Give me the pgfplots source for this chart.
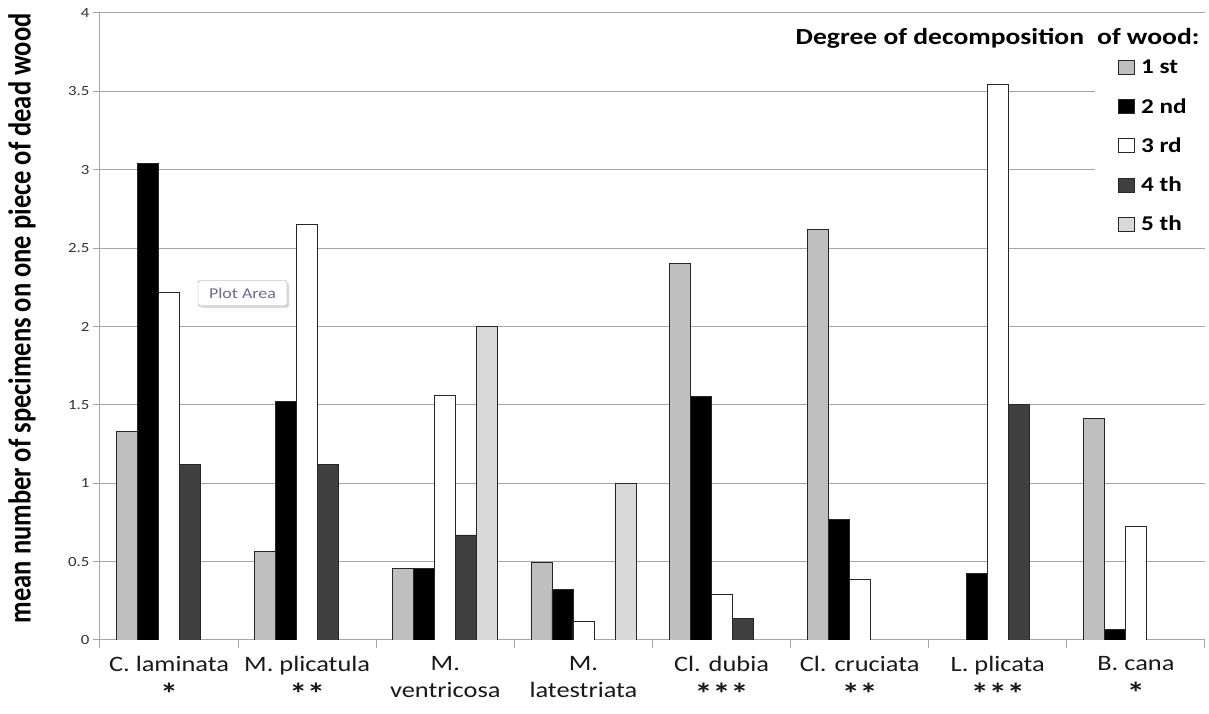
\documentclass[border=0pt]{standalone}
\usepackage{pgfplots}
\pgfplotsset{compat=1.18}
\usepackage{fontspec}
\setmainfont{Carlito}
\usetikzlibrary{shadows}
\definecolor{cA}{HTML}{BFBFBF}
\definecolor{cB}{HTML}{000000}
\definecolor{cC}{HTML}{FFFFFF}
\definecolor{cD}{HTML}{404040}
\definecolor{cE}{HTML}{D9D9D9}
\definecolor{gridc}{HTML}{A6A6A6}
\newcommand{\hs}[1]{\scalebox{1.2}[1]{#1}}
\newcommand{\st}[1]{{\fontsize{30}{27}\selectfont\bfseries\raisebox{-6pt}{\hs{#1}}}}
\begin{document}
\begin{tikzpicture}
\begin{axis}[
  scale only axis,
  width=1105pt, height=627pt,
  xmin=-0.5, xmax=7.5, ymin=0, ymax=4,
  ybar=0pt, bar width=21pt,
  axis x line*=bottom, axis y line*=left,
  axis line style={gridc, line width=1pt, -},
  ytick={0,0.5,...,4},
  ymajorgrids, grid style={gridc, line width=1pt},
  tick align=outside,
  major tick length=7pt,
  minor tick length=8pt,
  tick style={gridc, line width=1pt},
  xtick={0,...,7},
  x tick style={draw=none},
  minor xtick={-0.5,0.5,...,7.5},
  minor x tick style={gridc, line width=1pt, draw=gridc},
  yticklabel style={font=\fontsize{14}{14}\selectfont, text=black!80},
  /pgf/number format/assume math mode=true,
  yticklabel={\hs{\pgfmathprintnumber{\tick}}},
  xticklabels={
    {\hs{C. laminata}\\\st{*}},
    {\hs{M. plicatula}\\\st{**}},
    {\hs{M.}\\\hs{ventricosa}},
    {\hs{M.}\\\hs{latestriata}},
    {\hs{Cl. dubia}\\\st{***}},
    {\hs{Cl. cruciata}\\\st{**}},
    {\hs{L. plicata}\\\st{***}},
    {\hs{B. cana}\\\st{*}}},
  xticklabel style={align=center, font=\fontsize{22}{27}\selectfont, text=black!90, anchor=north, yshift=-6pt},
  ylabel={\scalebox{1}[1.2]{\bfseries mean number of specimens on one piece of dead wood}},
  ylabel style={at={(rel axis cs:-0.0706,0.513)}, anchor=center, font=\fontsize{26.5}{26.5}\selectfont},
  every axis plot/.append style={draw=black!85, line width=0.8pt},
  every axis plot post/.append style={legend image code/.code={\draw[##1, line width=0.8pt] (0pt,-7pt) rectangle (16pt,7pt);}},
  legend style={at={(rel axis cs:0.9005,0.925)}, anchor=north west, draw=none, fill=white,
    inner xsep=23pt, inner ysep=0pt, row sep=23pt,
    font=\fontsize{21}{21}\selectfont\bfseries,
    nodes={inner sep=0pt}},
  legend cell align=left,
]
\addplot[fill=cA] coordinates {(0,1.33) (1,0.565) (2,0.455) (3,0.495) (4,2.40) (5,2.62) (7,1.415)};
\addplot[fill=cB] coordinates {(0,3.04) (1,1.52) (2,0.455) (3,0.324) (4,1.551) (5,0.768) (6,0.424) (7,0.068)};
\addplot[fill=cC] coordinates {(0,2.22) (1,2.65) (2,1.563) (3,0.12) (4,0.29) (5,0.388) (6,3.544) (7,0.725)};
\addplot[fill=cD] coordinates {(0,1.12) (1,1.12) (2,0.67) (4,0.139) (6,1.5)};
\addplot[fill=cE] coordinates {(2,2.0) (3,1.0)};
\legend{\hspace{6pt}\hs{1 st},\hspace{6pt}\hs{2 nd},\hspace{6pt}\hs{3 rd},\hspace{6pt}\hs{4 th},\hspace{6pt}\hs{5 th}}
\node[anchor=base east, font=\fontsize{23}{23}\selectfont\bfseries] at (rel axis cs:0.9982,0.9505) {\hs{Degree of decomposition\hspace{0.25em} of wood:}};
\node[draw=gray!80, fill=white, rounded corners=2pt, drop shadow={opacity=0.3, shadow xshift=2pt, shadow yshift=-2pt},
  minimum width=89pt, minimum height=25pt, inner sep=0pt, text=gray!85!blue,
  font=\fontsize{15}{15}\selectfont] at (rel axis cs:0.129,0.553) {\hs{Plot Area}};
\coordinate (O) at (rel axis cs:0,0);
\end{axis}
\pgfresetboundingbox
\path ([shift={(-100pt,-74pt)}]O) rectangle ([shift={(1109pt,640pt)}]O);
\end{tikzpicture}
\end{document}
